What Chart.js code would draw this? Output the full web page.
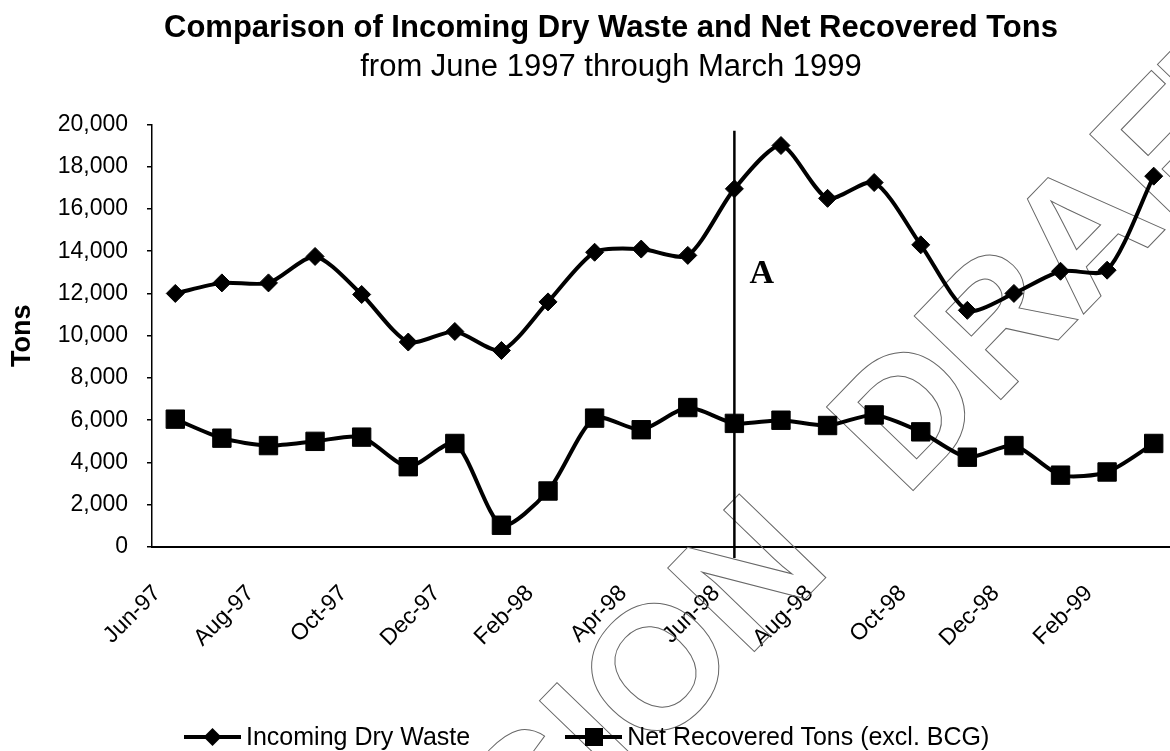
<!DOCTYPE html>
<html>
<head>
<meta charset="utf-8">
<script src="https://cdn.jsdelivr.net/npm/chart.js@4.4.1/dist/chart.umd.min.js"></script>
<style>
  html, body { margin: 0; padding: 0; background: #fff; overflow: hidden; width: 1170px; height: 751px; }
  #wrap { position: relative; width: 1222px; height: 751px; }
  #wrap > canvas { position: absolute; left: 0; top: 0; }
  #legend { position: absolute; left: 184px; top: 724px; display: flex; gap: 95px;
            font: 25px 'Liberation Sans', Arial, sans-serif; line-height: 25px; color: #000; white-space: nowrap; }
  #legend .item { display: flex; align-items: center; }
  #legend .item canvas { display: block; margin-right: 5px; }
</style>
</head>
<body>
<div id="wrap">
  <canvas id="chart" width="1222" height="751"></canvas>
  <div id="legend"></div>
</div>
<script>
// Monthly categories, June 1997 – March 1999
const months = ['Jun-97','Jul-97','Aug-97','Sep-97','Oct-97','Nov-97','Dec-97','Jan-98','Feb-98','Mar-98','Apr-98','May-98',
                'Jun-98','Jul-98','Aug-98','Sep-98','Oct-98','Nov-98','Dec-98','Jan-99','Feb-99','Mar-99'];

// Tons per month
const incomingDryWaste = [12000,12500,12500,13750,11950,9700,10200,9300,11600,13950,14100,13800,
                          16950,19000,16500,17250,14300,11200,12000,13050,13100,17550];
const netRecoveredTons = [6050,5150,4800,5000,5200,3800,4900,1030,2650,6100,5550,6600,
                          5850,6000,5750,6250,5450,4250,4800,3400,3550,4900];

// Value axis
const yMin = 0, yMax = 20000, yStep = 2000;

// Reference marker
const markerMonth = 'Jun-98';
const markerTopValue = 19700;
const markerText = 'A';
const markerTextValue = 12500;

const seriesNames = ['Incoming Dry Waste', 'Net Recovered Tons (excl. BCG)'];

const SANS = "'Liberation Sans', Arial, Helvetica, sans-serif";
Chart.defaults.font.family = SANS;
Chart.defaults.color = '#000';

// Vertical marker line with its letter
const markerPlugin = {
  id: 'marker',
  afterDatasetsDraw(chart) {
    const { ctx, scales: { x, y }, chartArea } = chart;
    const px = x.getPixelForValue(months.indexOf(markerMonth));
    ctx.save();
    ctx.strokeStyle = '#000';
    ctx.lineWidth = 2.5;
    ctx.beginPath();
    ctx.moveTo(px, y.getPixelForValue(markerTopValue));
    ctx.lineTo(px, chartArea.bottom + 11);
    ctx.stroke();
    ctx.font = "bold 34px 'Liberation Serif', 'Times New Roman', serif";
    ctx.fillStyle = '#000';
    ctx.textAlign = 'left';
    ctx.textBaseline = 'alphabetic';
    ctx.fillText(markerText, px + 15, y.getPixelForValue(markerTextValue));
    ctx.restore();
  }
};

// Outlined diagonal stamp behind the lines
const stampPlugin = {
  id: 'stamp',
  beforeDatasetsDraw(chart) {
    const ctx = chart.ctx;
    const ang = -46 * Math.PI / 180;
    ctx.save();
    ctx.font = "bold 175px " + SANS;
    ctx.strokeStyle = '#666';
    ctx.lineWidth = 1;
    ctx.textBaseline = 'alphabetic';
    ctx.save();
    ctx.translate(905, 499);
    ctx.rotate(ang);
    ctx.textAlign = 'left';
    ctx.strokeText('DRAFT', 0, 0);
    ctx.restore();
    ctx.save();
    ctx.translate(834, 569);
    ctx.rotate(ang);
    ctx.textAlign = 'right';
    ctx.strokeText('DISCUSSION', 0, 0);
    ctx.restore();
    ctx.restore();
  }
};

// Legend samples: a thick line with the series marker in the middle
function sampleCanvas(style) {
  const c = document.createElement('canvas');
  c.width = 57; c.height = 22;
  const g = c.getContext('2d');
  g.fillStyle = '#000';
  g.strokeStyle = '#000';
  g.lineWidth = 4;
  g.beginPath(); g.moveTo(0, 11); g.lineTo(57, 11); g.stroke();
  if (style === 'rectRot') {
    g.beginPath(); g.moveTo(28.5, 2); g.lineTo(37.5, 11); g.lineTo(28.5, 20); g.lineTo(19.5, 11); g.closePath(); g.fill();
  } else {
    g.fillRect(20, 2, 18, 18);
  }
  return c;
}

const htmlLegendPlugin = {
  id: 'htmlLegend',
  afterUpdate(chart) {
    const box = document.getElementById('legend');
    box.innerHTML = '';
    chart.data.datasets.forEach(ds => {
      const item = document.createElement('div');
      item.className = 'item';
      item.appendChild(sampleCanvas(ds.pointStyle));
      const t = document.createElement('span');
      t.textContent = ds.label;
      item.appendChild(t);
      box.appendChild(item);
    });
  }
};

new Chart(document.getElementById('chart'), {
  type: 'line',
  data: {
    labels: months,
    datasets: [
      {
        label: seriesNames[0],
        data: incomingDryWaste,
        borderColor: '#000',
        backgroundColor: '#000',
        borderWidth: 4,
        tension: 0.25,
        pointStyle: 'rectRot',
        pointRadius: 9,
        pointHoverRadius: 9,
        pointBackgroundColor: '#000',
        pointBorderColor: '#000',
        pointBorderWidth: 1
      },
      {
        label: seriesNames[1],
        data: netRecoveredTons,
        borderColor: '#000',
        backgroundColor: '#000',
        borderWidth: 4,
        tension: 0.25,
        pointStyle: 'rect',
        pointRadius: 13,
        pointHoverRadius: 13,
        pointBackgroundColor: '#000',
        pointBorderColor: '#000',
        pointBorderWidth: 1
      }
    ]
  },
  options: {
    responsive: false,
    animation: false,
    devicePixelRatio: 1,
    locale: 'en-US',
    layout: { padding: 0 },
    plugins: {
      legend: { display: false },
      tooltip: { enabled: false },
      title: {
        display: true,
        text: 'Comparison of Incoming Dry Waste and Net Recovered Tons',
        color: '#000',
        font: { size: 31, weight: 'bold' },
        padding: { top: 10, bottom: 0 }
      },
      subtitle: {
        display: true,
        text: 'from June 1997 through March 1999',
        color: '#000',
        font: { size: 31, weight: 'normal' },
        padding: { top: 2, bottom: 38 }
      }
    },
    scales: {
      x: {
        type: 'category',
        offset: true,
        grid: { display: false, drawTicks: false },
        border: { display: true, color: '#000', width: 2 },
        ticks: {
          autoSkip: false,
          minRotation: 45,
          maxRotation: 45,
          padding: 33,
          labelOffset: -18,
          color: '#000',
          font: { size: 23 },
          callback(value, index) { return index % 2 === 0 ? this.getLabelForValue(value) : ''; }
        },
        afterFit(scale) { scale.height = 204; }
      },
      y: {
        min: yMin,
        max: yMax,
        ticks: { stepSize: yStep, padding: 19, color: '#000', font: { size: 23 } },
        grid: { drawOnChartArea: false, drawTicks: true, tickLength: 5, color: '#000', lineWidth: 1.5 },
        border: { display: true, color: '#000', width: 1.5 },
        title: {
          display: true,
          text: 'Tons',
          color: '#000',
          font: { size: 27, weight: 'bold' },
          padding: { top: 6, bottom: 0 }
        },
        afterFit(scale) { scale.width = 152; }
      },
      edge: {
        position: 'right',
        display: true,
        grid: { display: false },
        border: { display: false },
        ticks: { display: false },
        afterFit(scale) { scale.width = 45; }
      }
    }
  },
  plugins: [stampPlugin, markerPlugin, htmlLegendPlugin]
});
</script>
</body>
</html>
